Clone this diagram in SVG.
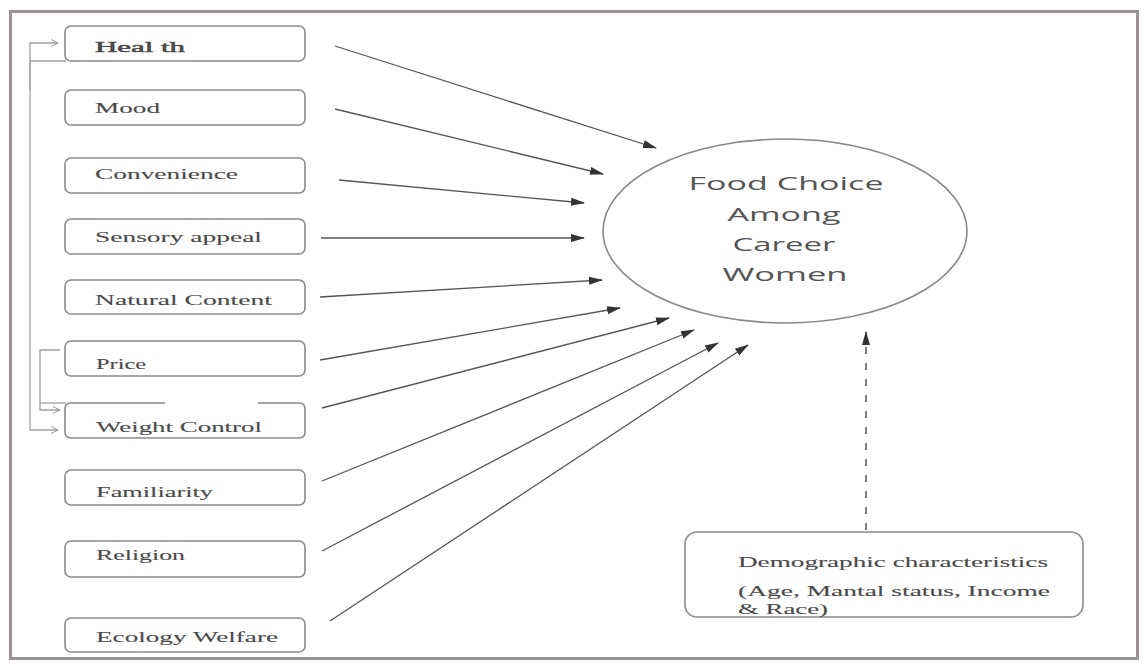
<svg xmlns="http://www.w3.org/2000/svg" width="1144" height="665" viewBox="0 0 1144 665">
<defs>
<marker id="ah" markerWidth="14" markerHeight="10" refX="13" refY="5" orient="auto" markerUnits="userSpaceOnUse">
<path d="M0,1 L14,5 L0,9 Z" fill="#333"/>
</marker>
<marker id="oh" markerWidth="10" markerHeight="10" refX="8" refY="5" orient="auto" markerUnits="userSpaceOnUse">
<path d="M1,1.5 L8,5 L1,8.5" fill="none" stroke="#999" stroke-width="1"/>
</marker>
<style>
.box{fill:#fff;stroke:#8a8a8a;stroke-width:1.6}
.lbl{font-family:"Liberation Serif","Times New Roman",serif;font-size:15px;fill:#4a4a4a;stroke:#4a4a4a;stroke-width:0.1}
.ctr{font-family:"Open Sans","Liberation Sans",sans-serif;font-size:19px;fill:#555;text-anchor:middle;font-weight:500}
.arr{stroke:#555;stroke-width:1.3;fill:none;marker-end:url(#ah)}
.brk{stroke:#a0a0a0;stroke-width:1.3;fill:none}
</style>
</defs>
<rect x="0" y="0" width="1144" height="665" fill="#fff"/>
<rect id="frame" x="10.5" y="11.5" width="1127" height="647" fill="none" stroke="#9a9296" stroke-width="3"/>

<g id="connectors">
<line class="arr" x1="335" y1="46" x2="656" y2="148"/>
<line class="arr" x1="335" y1="109" x2="603" y2="174"/>
<line class="arr" x1="339" y1="180" x2="584" y2="203"/>
<line class="arr" x1="321" y1="238" x2="584" y2="238"/>
<line class="arr" x1="320" y1="297" x2="602" y2="280"/>
<line class="arr" x1="320" y1="360" x2="620" y2="308"/>
<line class="arr" x1="322" y1="408" x2="669" y2="318"/>
<line class="arr" x1="322" y1="481" x2="694" y2="330"/>
<line class="arr" x1="322" y1="551" x2="718" y2="343"/>
<line class="arr" x1="330" y1="621" x2="748" y2="345"/>
<line x1="866" y1="530" x2="866" y2="332" stroke="#555" stroke-width="1.5" stroke-dasharray="7,9" marker-end="url(#ah)"/>
<path class="brk" d="M30,90 V43 H58" marker-end="url(#oh)"/>
<path class="brk" d="M30,60 V430 H58" marker-end="url(#oh)"/>
<line class="brk" x1="30" y1="61" x2="66" y2="61"/>
<path class="brk" d="M60,350 H40 V410 H60" marker-end="url(#oh)"/>
<line class="brk" x1="40" y1="403" x2="66" y2="403"/>
</g>

<g id="n-health"><rect class="box" x="65" y="26" width="240" height="35" rx="6"/><text class="lbl" x="95" y="52" textLength="90" lengthAdjust="spacingAndGlyphs" style="stroke-width:0.5">Heal th</text></g>
<g id="n-mood"><rect class="box" x="65" y="90" width="240" height="35" rx="6"/><text class="lbl" x="95" y="113" textLength="65" lengthAdjust="spacingAndGlyphs">Mood</text></g>
<g id="n-convenience"><rect class="box" x="65" y="158" width="240" height="35" rx="6"/><text class="lbl" x="95" y="179" textLength="143" lengthAdjust="spacingAndGlyphs">Convenience</text></g>
<g id="n-sensory"><rect class="box" x="65" y="219" width="240" height="35" rx="6"/><text class="lbl" x="95" y="242" textLength="167" lengthAdjust="spacingAndGlyphs">Sensory appeal</text></g>
<g id="n-natural"><rect class="box" x="65" y="280" width="240" height="34" rx="6"/><text class="lbl" x="95" y="305" textLength="177" lengthAdjust="spacingAndGlyphs">Natural Content</text></g>
<g id="n-price"><rect class="box" x="65" y="341" width="240" height="35" rx="6"/><text class="lbl" x="96" y="369" textLength="50" lengthAdjust="spacingAndGlyphs">Price</text></g>
<g id="n-weight"><path class="box" d="M165,403 H71 Q65,403 65,409 V432 Q65,438 71,438 H299 Q305,438 305,432 V409 Q305,403 299,403 H258" /><text class="lbl" x="96" y="432" textLength="166" lengthAdjust="spacingAndGlyphs">Weight Control</text></g>
<g id="n-familiarity"><rect class="box" x="65" y="470" width="240" height="35" rx="6"/><text class="lbl" x="96" y="497" textLength="117" lengthAdjust="spacingAndGlyphs">Familiarity</text></g>
<g id="n-religion"><rect class="box" x="65" y="541" width="240" height="36" rx="6"/><text class="lbl" x="96" y="560" textLength="89" lengthAdjust="spacingAndGlyphs">Religion</text></g>
<g id="n-ecology"><rect class="box" x="65" y="618" width="240" height="34" rx="6"/><text class="lbl" x="96" y="642" textLength="182" lengthAdjust="spacingAndGlyphs">Ecology Welfare</text></g>

<g id="n-food-choice">
<ellipse cx="785" cy="231" rx="182" ry="92" fill="#fff" stroke="#888" stroke-width="1.6"/>
<text class="ctr" x="786" y="190" textLength="195" lengthAdjust="spacingAndGlyphs">Food Choice</text>
<text class="ctr" x="784" y="221" textLength="113" lengthAdjust="spacingAndGlyphs">Among</text>
<text class="ctr" x="784" y="251" textLength="103" lengthAdjust="spacingAndGlyphs">Career</text>
<text class="ctr" x="785" y="281" textLength="125" lengthAdjust="spacingAndGlyphs">Women</text>
</g>

<g id="n-demographic">
<rect class="box" x="685" y="532" width="398" height="85" rx="12"/>
<text class="lbl" x="738" y="567" textLength="310" lengthAdjust="spacingAndGlyphs">Demographic characteristics</text>
<text class="lbl" x="738" y="596" textLength="312" lengthAdjust="spacingAndGlyphs">(Age, Mantal status, Income</text>
<text class="lbl" x="738" y="614" textLength="90" lengthAdjust="spacingAndGlyphs">&amp; Race)</text>
</g>
</svg>
